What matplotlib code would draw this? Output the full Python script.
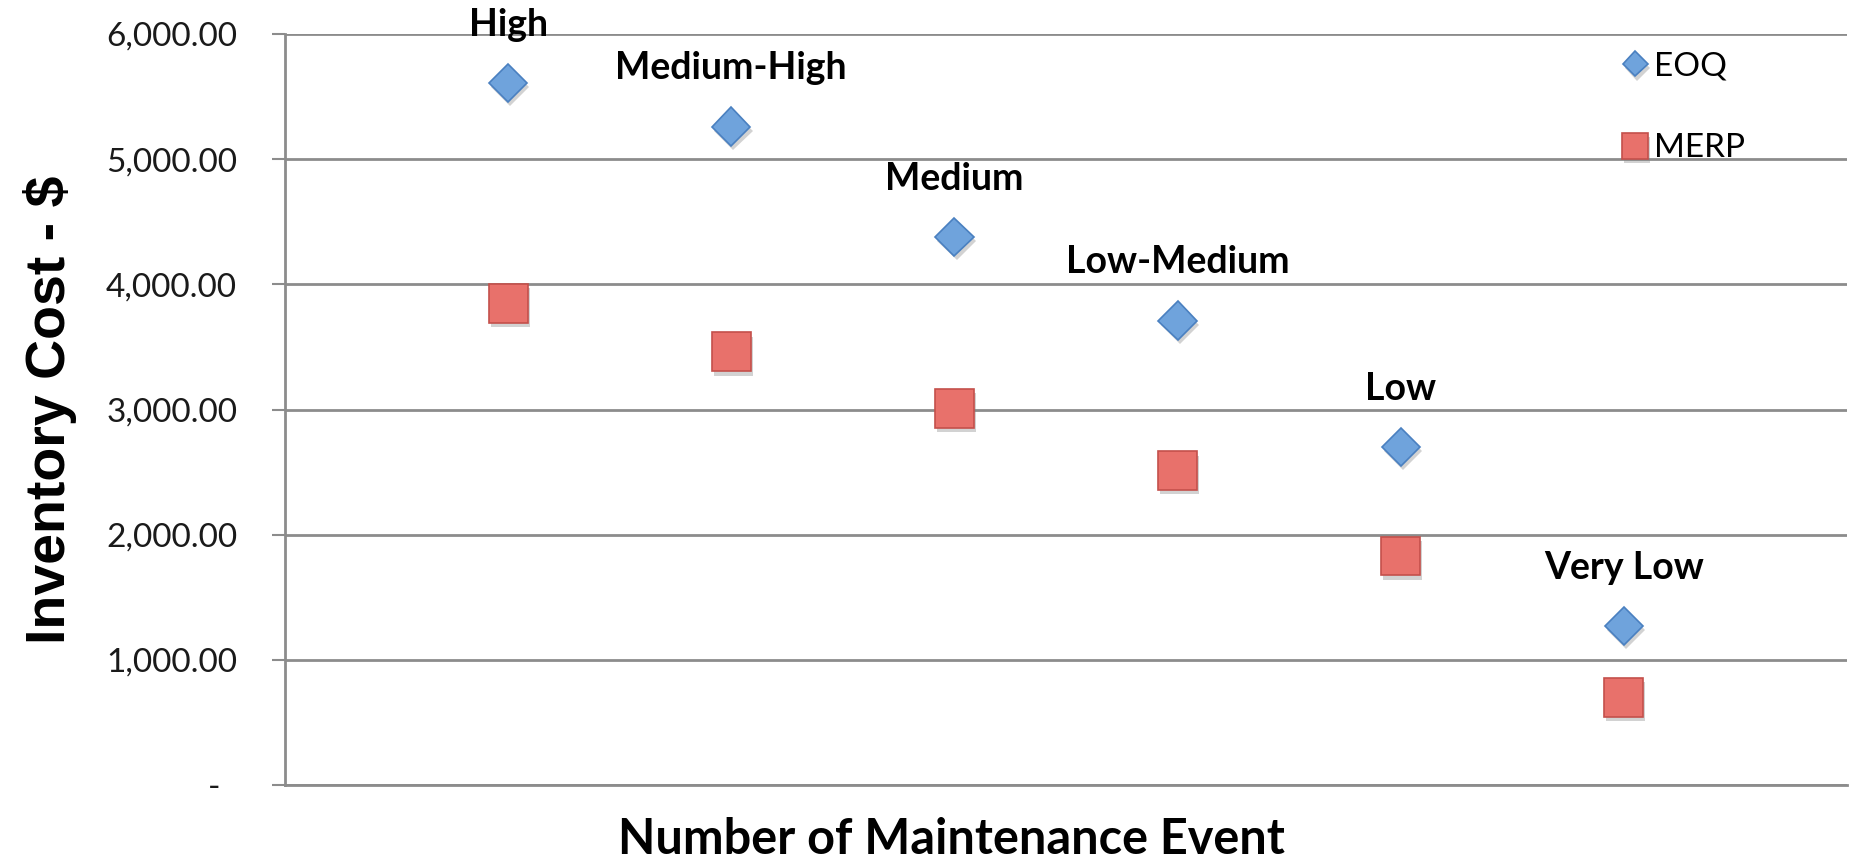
import matplotlib
matplotlib.use("Agg")
import matplotlib.pyplot as plt
import matplotlib.patheffects as pe
from matplotlib.ticker import FixedLocator, FuncFormatter

# Demand levels (one per maintenance-event scenario)
levels = ["High", "Medium-High", "Medium", "Low-Medium", "Low", "Very Low"]
x_pos = [1, 2, 3, 4, 5, 6]
eoq_cost = [5610, 5260, 4380, 3710, 2700, 1270]
merp_cost = [3850, 3460, 3010, 2510, 1830, 700]
y_ticks = [0, 1000, 2000, 3000, 4000, 5000, 6000]

W, H, DPI = 1854, 859, 100
fig = plt.figure(figsize=(W / DPI, H / DPI), dpi=DPI)
fig.patch.set_facecolor("white")

# axes frame in pixels
left, right, bottom, top = 285, 1847, 785, 34
ax = fig.add_axes([left / W, 1 - bottom / H, (right - left) / W, (bottom - top) / H])

grid_col = "#8c8c8c"
shadow = [pe.SimplePatchShadow(offset=(1.5, -3), shadow_rgbFace="#7f7f7f", alpha=0.35), pe.Normal()]

ax.plot(x_pos, eoq_cost, linestyle="none", marker="D", markersize=19.5,
        markerfacecolor="#6fa3dc", markeredgecolor="#4a80c0", markeredgewidth=1.2,
        label="EOQ", zorder=4, path_effects=shadow)
ax.plot(x_pos, merp_cost, linestyle="none", marker="s", markersize=28,
        markerfacecolor="#e8716b", markeredgecolor="#c4504b", markeredgewidth=1.2,
        label="MERP", zorder=4, path_effects=shadow)

# category labels above the EOQ points
for xv, yv, name in zip(x_pos, eoq_cost, levels):
    ax.annotate(name, (xv, yv), xytext=(0, 34), textcoords="offset points",
                ha="center", va="baseline", fontsize=27, fontweight="bold",
                family="Lato", color="black", zorder=5, annotation_clip=False)

ax.set_xlim(0, 7)
ax.set_ylim(0, 6000)
ax.yaxis.set_major_locator(FixedLocator(y_ticks))
ax.yaxis.set_major_formatter(FuncFormatter(lambda v, p: "-  " if v == 0 else f"{v:,.2f}"))
ax.set_xticks([])

ax.grid(axis="y", color=grid_col, linewidth=2.0)
ax.set_axisbelow(True)
for s in ("top", "right"):
    ax.spines[s].set_visible(False)
for s in ("left", "bottom"):
    ax.spines[s].set_color(grid_col)
    ax.spines[s].set_linewidth(2.0)

ax.tick_params(axis="y", direction="out", length=9.5, width=1.5, color=grid_col,
               pad=25, labelsize=24, labelcolor="#1a1a1a")
for lbl in ax.get_yticklabels():
    lbl.set_family("Lato")

leg = ax.legend(loc="upper left", bbox_to_anchor=(1612 / W, 1 - 38 / H),
                bbox_transform=fig.transFigure, frameon=False, markerscale=0.67,
                handlelength=0.6, handletextpad=0.25, labelspacing=1.56,
                borderaxespad=0, prop={"family": "Lato", "size": 24})

fig.text(65 / W, 1 - 410 / H, "Inventory Cost - $", rotation=90, rotation_mode="anchor",
         ha="center", va="baseline", fontsize=40, fontweight="bold",
         family="Liberation Sans")
fig.text(951 / W, 1 - 854 / H, "Number of Maintenance Event", ha="center", va="baseline",
         fontsize=35, fontweight="bold", family="Lato")

fig.savefig("out.png", dpi=DPI, facecolor="white")
